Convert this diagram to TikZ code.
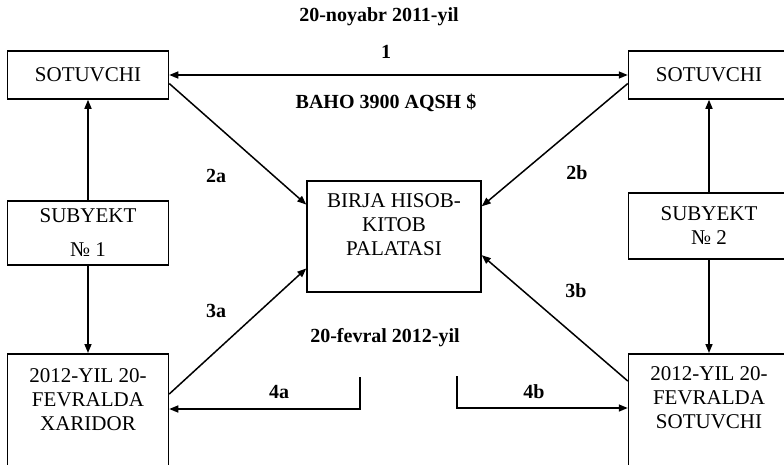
\documentclass[tikz,border=0pt]{standalone}
\usepackage{fontspec}
\setmainfont{Liberation Serif}
\usetikzlibrary{positioning,calc,arrows.meta}

\begin{document}
\begin{tikzpicture}[x=1pt,y=-1pt,line width=1.5pt,>={Triangle[length=9pt,width=7pt]},
  box/.style={draw,align=center,font=\fontsize{21}{24}\selectfont,minimum width=161pt},
  lbl/.style={font=\bfseries\fontsize{20}{24}\selectfont}]
\useasboundingbox (0,0) rectangle (784,464);
% boxes
\node[box,minimum height=48pt] (sotL) at (88,75) {SOTUVCHI};
\node[box,minimum height=48pt] (sotR) at (709,75) {SOTUVCHI};
\node[box,minimum height=64pt] (sub1) at (88,233) {SUBYEKT\\[10pt]№ 1};
\node[box,minimum height=66pt] (sub2) at (709,226) {SUBYEKT\\№ 2};
\node[box,minimum width=174pt,minimum height=111pt,text height=63pt,text depth=26pt] (birja) at (394,236.5) {BIRJA HISOB-\\KITOB\\PALATASI};
\node[box,anchor=north,inner ysep=14pt,text height=63pt,text depth=100pt] (xaridor) at (88,353) {2012-YIL 20-\\FEVRALDA\\XARIDOR};
\node[box,anchor=north,inner ysep=12pt,text height=63pt,text depth=100pt] (sotB) at (709,353) {2012-YIL 20-\\FEVRALDA\\SOTUVCHI};
% labels
\node[lbl] (date1) at (379,17) {20-noyabr 2011-yil};
\node[lbl] (n1) at (386,52) {1};
\node[lbl] (price) at (386,103) {BAHO 3900 AQSH \$};
\node[lbl] (l2a) at (216,176) {2a};
\node[lbl] (l2b) at (577,173) {2b};
\node[lbl] (l3a) at (216,311) {3a};
\node[lbl] (l3b) at (576,291) {3b};
\node[lbl] (date2) at (385,338) {20-fevral 2012-yil};
\node[lbl] (l4a) at (279,392) {4a};
\node[lbl] (l4b) at (534,392) {4b};
% connectors
\draw[<->] (sotL) -- (sotR);
\draw[->] (sub1) -- (sotL);
\draw[->] (sub1) -- (xaridor);
\draw[->] (sub2) -- (sotR);
\draw[->] (sub2) -- (sotB);
\draw[->] (sotL.-6) -- (birja.160);
\draw[->] (sotR.186) -- (birja.19);
\draw[->] ($(xaridor.north east)+(0,41)$) -- (birja.200);
\draw[->] ($(sotB.north west)+(0,28)$) -- (birja.-12);
\coordinate (ta) at (360,377);
\coordinate (tb) at (457,376);
\draw[->] (ta) |- ($(xaridor.north east)+(0,56)$);
\draw[->] (tb) |- ($(sotB.north west)+(0,55)$);
\end{tikzpicture}
\end{document}
